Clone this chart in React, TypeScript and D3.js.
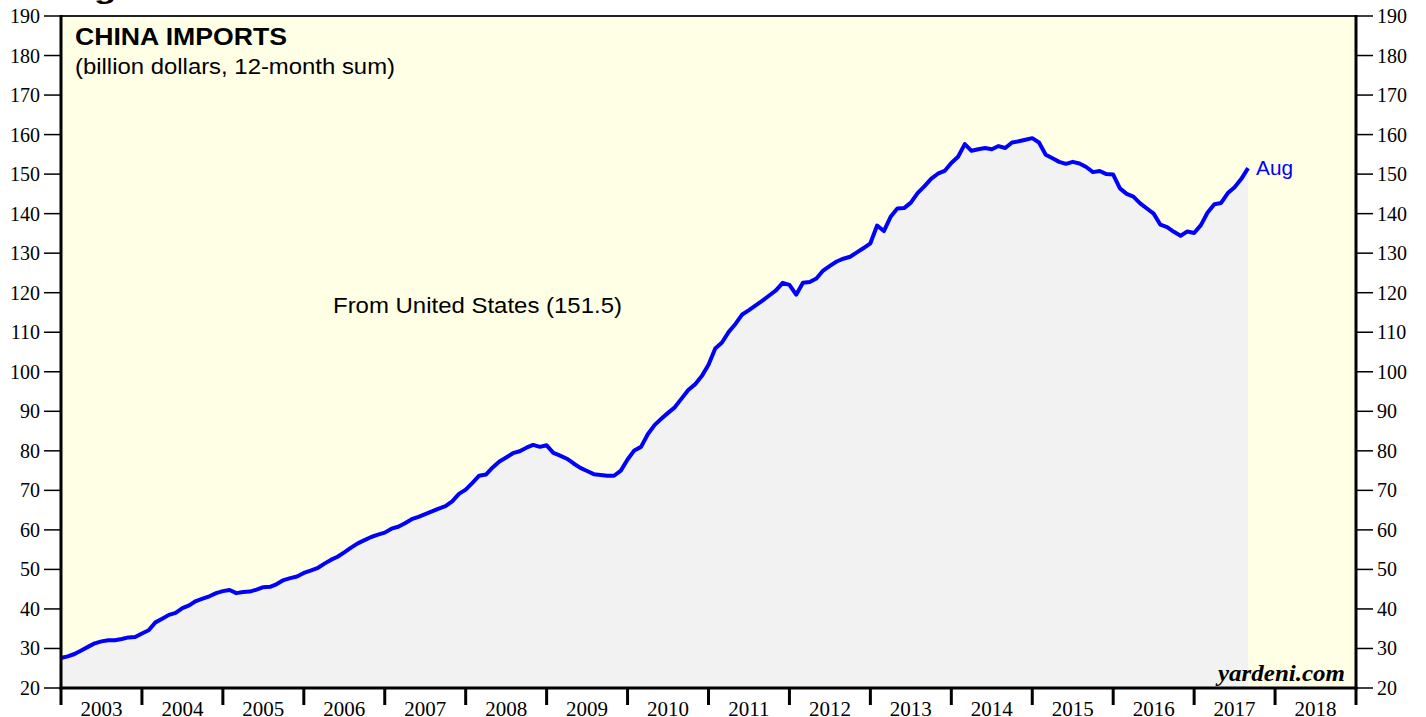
import React from "react";
import * as d3 from "d3";

// Monthly values, Dec 2002 .. Aug 2017 (billion dollars, 12-month sum)
const startYear = 2002;
const startMonth = 12;
const importsFromUS: number[] = [
  27.6,
  28.0, 28.6, 29.5, 30.4, 31.3, 31.8, 32.1, 32.1, 32.4, 32.8, 32.9, 33.8,
  34.6, 36.6, 37.5, 38.5, 39.0, 40.2, 40.9, 42.0, 42.6, 43.2, 44.0, 44.5,
  44.8, 44.0, 44.3, 44.4, 44.9, 45.5, 45.6, 46.3, 47.3, 47.8, 48.2, 49.1,
  49.7, 50.3, 51.4, 52.4, 53.2, 54.3, 55.5, 56.6, 57.4, 58.2, 58.8, 59.3,
  60.3, 60.8, 61.7, 62.7, 63.3, 64.0, 64.7, 65.4, 66.0, 67.2, 69.1, 70.2,
  71.9, 73.7, 74.0, 75.8, 77.3, 78.3, 79.4, 79.9, 80.8, 81.5, 81.0, 81.4,
  79.5, 78.8, 78.0, 76.8, 75.7, 74.9, 74.1, 73.9, 73.7, 73.7, 75.0, 77.8,
  80.1, 81.0, 84.2, 86.5, 88.1, 89.6, 91.0, 93.2, 95.4, 96.8, 98.9, 101.8,
  105.9, 107.4, 110.1, 112.1, 114.5, 115.6, 116.8, 118.0, 119.3, 120.6, 122.5, 122.0,
  119.5, 122.5, 122.7, 123.6, 125.6, 126.8, 127.9, 128.6, 129.1, 130.2, 131.3, 132.5,
  137.0, 135.6, 139.2, 141.3, 141.4, 142.8, 145.2, 146.9, 148.8, 150.1, 150.8, 152.8,
  154.4, 157.6, 155.9, 156.3, 156.6, 156.3, 157.1, 156.6, 158.0, 158.3, 158.7, 159.1,
  158.0, 154.9, 154.0, 153.1, 152.6, 153.1, 152.7, 151.8, 150.5, 150.8, 150.0, 149.9,
  146.4, 145.0, 144.3, 142.6, 141.3, 140.0, 137.2, 136.6, 135.4, 134.4, 135.5, 135.1,
  137.1, 140.3, 142.4, 142.7, 145.2, 146.7, 148.8, 151.5,
];

const years = d3.range(2003, 2019);
const yTicks = d3.range(20, 191, 10);
const figureLabel = "Figure 8.";
const title = "CHINA IMPORTS";
const subtitle = "(billion dollars, 12-month sum)";
const seriesLabel = "From United States (151.5)";
const endLabel = "Aug";
const credit = "yardeni.com";

const W = 1426;
const H = 717;
const left = 61;
const right = 1356;
const top = 16;
const bottom = 688;

export default function App() {
  const x = d3.scaleLinear().domain([2003, 2019]).range([left, right]);
  const y = d3.scaleLinear().domain([20, 190]).range([bottom, top]);

  // month-end positions
  const data = importsFromUS.map((v, i) => {
    const t = startYear + (startMonth + i) / 12;
    return { t, v };
  });

  const line = d3
    .line<{ t: number; v: number }>()
    .x((d) => x(d.t))
    .y((d) => y(d.v));
  const area = d3
    .area<{ t: number; v: number }>()
    .x((d) => x(d.t))
    .y0(bottom)
    .y1((d) => y(d.v));

  const last = data[data.length - 1];
  const serif = "'Liberation Serif', 'Times New Roman', serif";
  const sans = "'Liberation Sans', Arial, Helvetica, sans-serif";

  return (
    <svg
      width={W}
      height={H}
      style={{ position: "absolute", left: 0, top: 0, display: "block", background: "#fff" }}
    >
      <text
        x={62}
        y={-1}
        fontFamily={sans}
        fontWeight="bold"
        fontSize={24}
        textLength={150}
        lengthAdjust="spacingAndGlyphs"
        fill="#000"
      >
        {figureLabel}
      </text>
      <rect x={left} y={top} width={right - left} height={bottom - top} fill="#FFFFE5" />
      <path d={area(data) || ""} fill="#F2F2F2" />
      <path
        d={line(data) || ""}
        fill="none"
        stroke="#0000FF"
        strokeWidth={4}
        strokeLinejoin="round"
      />

      {/* frame */}
      <line x1={left} x2={right} y1={top} y2={top} stroke="#222" strokeWidth={2} />
      <line x1={left} x2={left} y1={top - 1} y2={bottom + 1.5} stroke="#000" strokeWidth={3} />
      <line x1={right} x2={right} y1={top - 1} y2={bottom + 1.5} stroke="#000" strokeWidth={3} />
      <line x1={left - 1.5} x2={right + 1.5} y1={bottom} y2={bottom} stroke="#000" strokeWidth={3} />

      {/* y ticks */}
      {yTicks.map((t) => (
        <g key={t}>
          <line x1={left - 17} x2={left} y1={y(t)} y2={y(t)} stroke="#000" strokeWidth={1.5} />
          <line x1={right} x2={right + 17} y1={y(t)} y2={y(t)} stroke="#000" strokeWidth={1.5} />
          <text
            x={40}
            y={y(t)}
            dy="0.35em"
            textAnchor="end"
            fontFamily={serif}
            fontSize={20}
            fill="#000"
          >
            {t}
          </text>
          <text
            x={1377}
            y={y(t)}
            dy="0.35em"
            textAnchor="start"
            fontFamily={serif}
            fontSize={20}
            fill="#000"
          >
            {t}
          </text>
        </g>
      ))}

      {/* x ticks */}
      {years.map((yr) => (
        <line key={yr} x1={x(yr)} x2={x(yr)} y1={bottom} y2={705} stroke="#000" strokeWidth={3} />
      ))}
      <line x1={right} x2={right} y1={bottom} y2={705} stroke="#000" strokeWidth={3} />
      {years.map((yr) => (
        <text
          key={"l" + yr}
          x={x(yr + 0.5)}
          y={716}
          textAnchor="middle"
          fontFamily={serif}
          fontSize={21}
          fill="#000"
        >
          {yr}
        </text>
      ))}

      <text
        x={75}
        y={45}
        fontFamily={sans}
        fontWeight="bold"
        fontSize={24}
        textLength={212}
        lengthAdjust="spacingAndGlyphs"
        fill="#000"
      >
        {title}
      </text>
      <text
        x={75}
        y={74}
        fontFamily={sans}
        fontSize={22}
        textLength={320}
        lengthAdjust="spacingAndGlyphs"
        fill="#000"
      >
        {subtitle}
      </text>
      <text
        x={333}
        y={313}
        fontFamily={sans}
        fontSize={22}
        textLength={289}
        lengthAdjust="spacingAndGlyphs"
        fill="#000"
      >
        {seriesLabel}
      </text>
      <text
        x={x(last.t) + 8}
        y={y(last.v)}
        dy="0.35em"
        fontFamily={sans}
        fontSize={20}
        textLength={37}
        lengthAdjust="spacingAndGlyphs"
        fill="#0000FF"
      >
        {endLabel}
      </text>
      <text
        x={1218}
        y={681}
        fontFamily={serif}
        fontWeight="bold"
        fontStyle="italic"
        fontSize={23}
        textLength={127}
        lengthAdjust="spacingAndGlyphs"
        fill="#000"
      >
        {credit}
      </text>
    </svg>
  );
}
